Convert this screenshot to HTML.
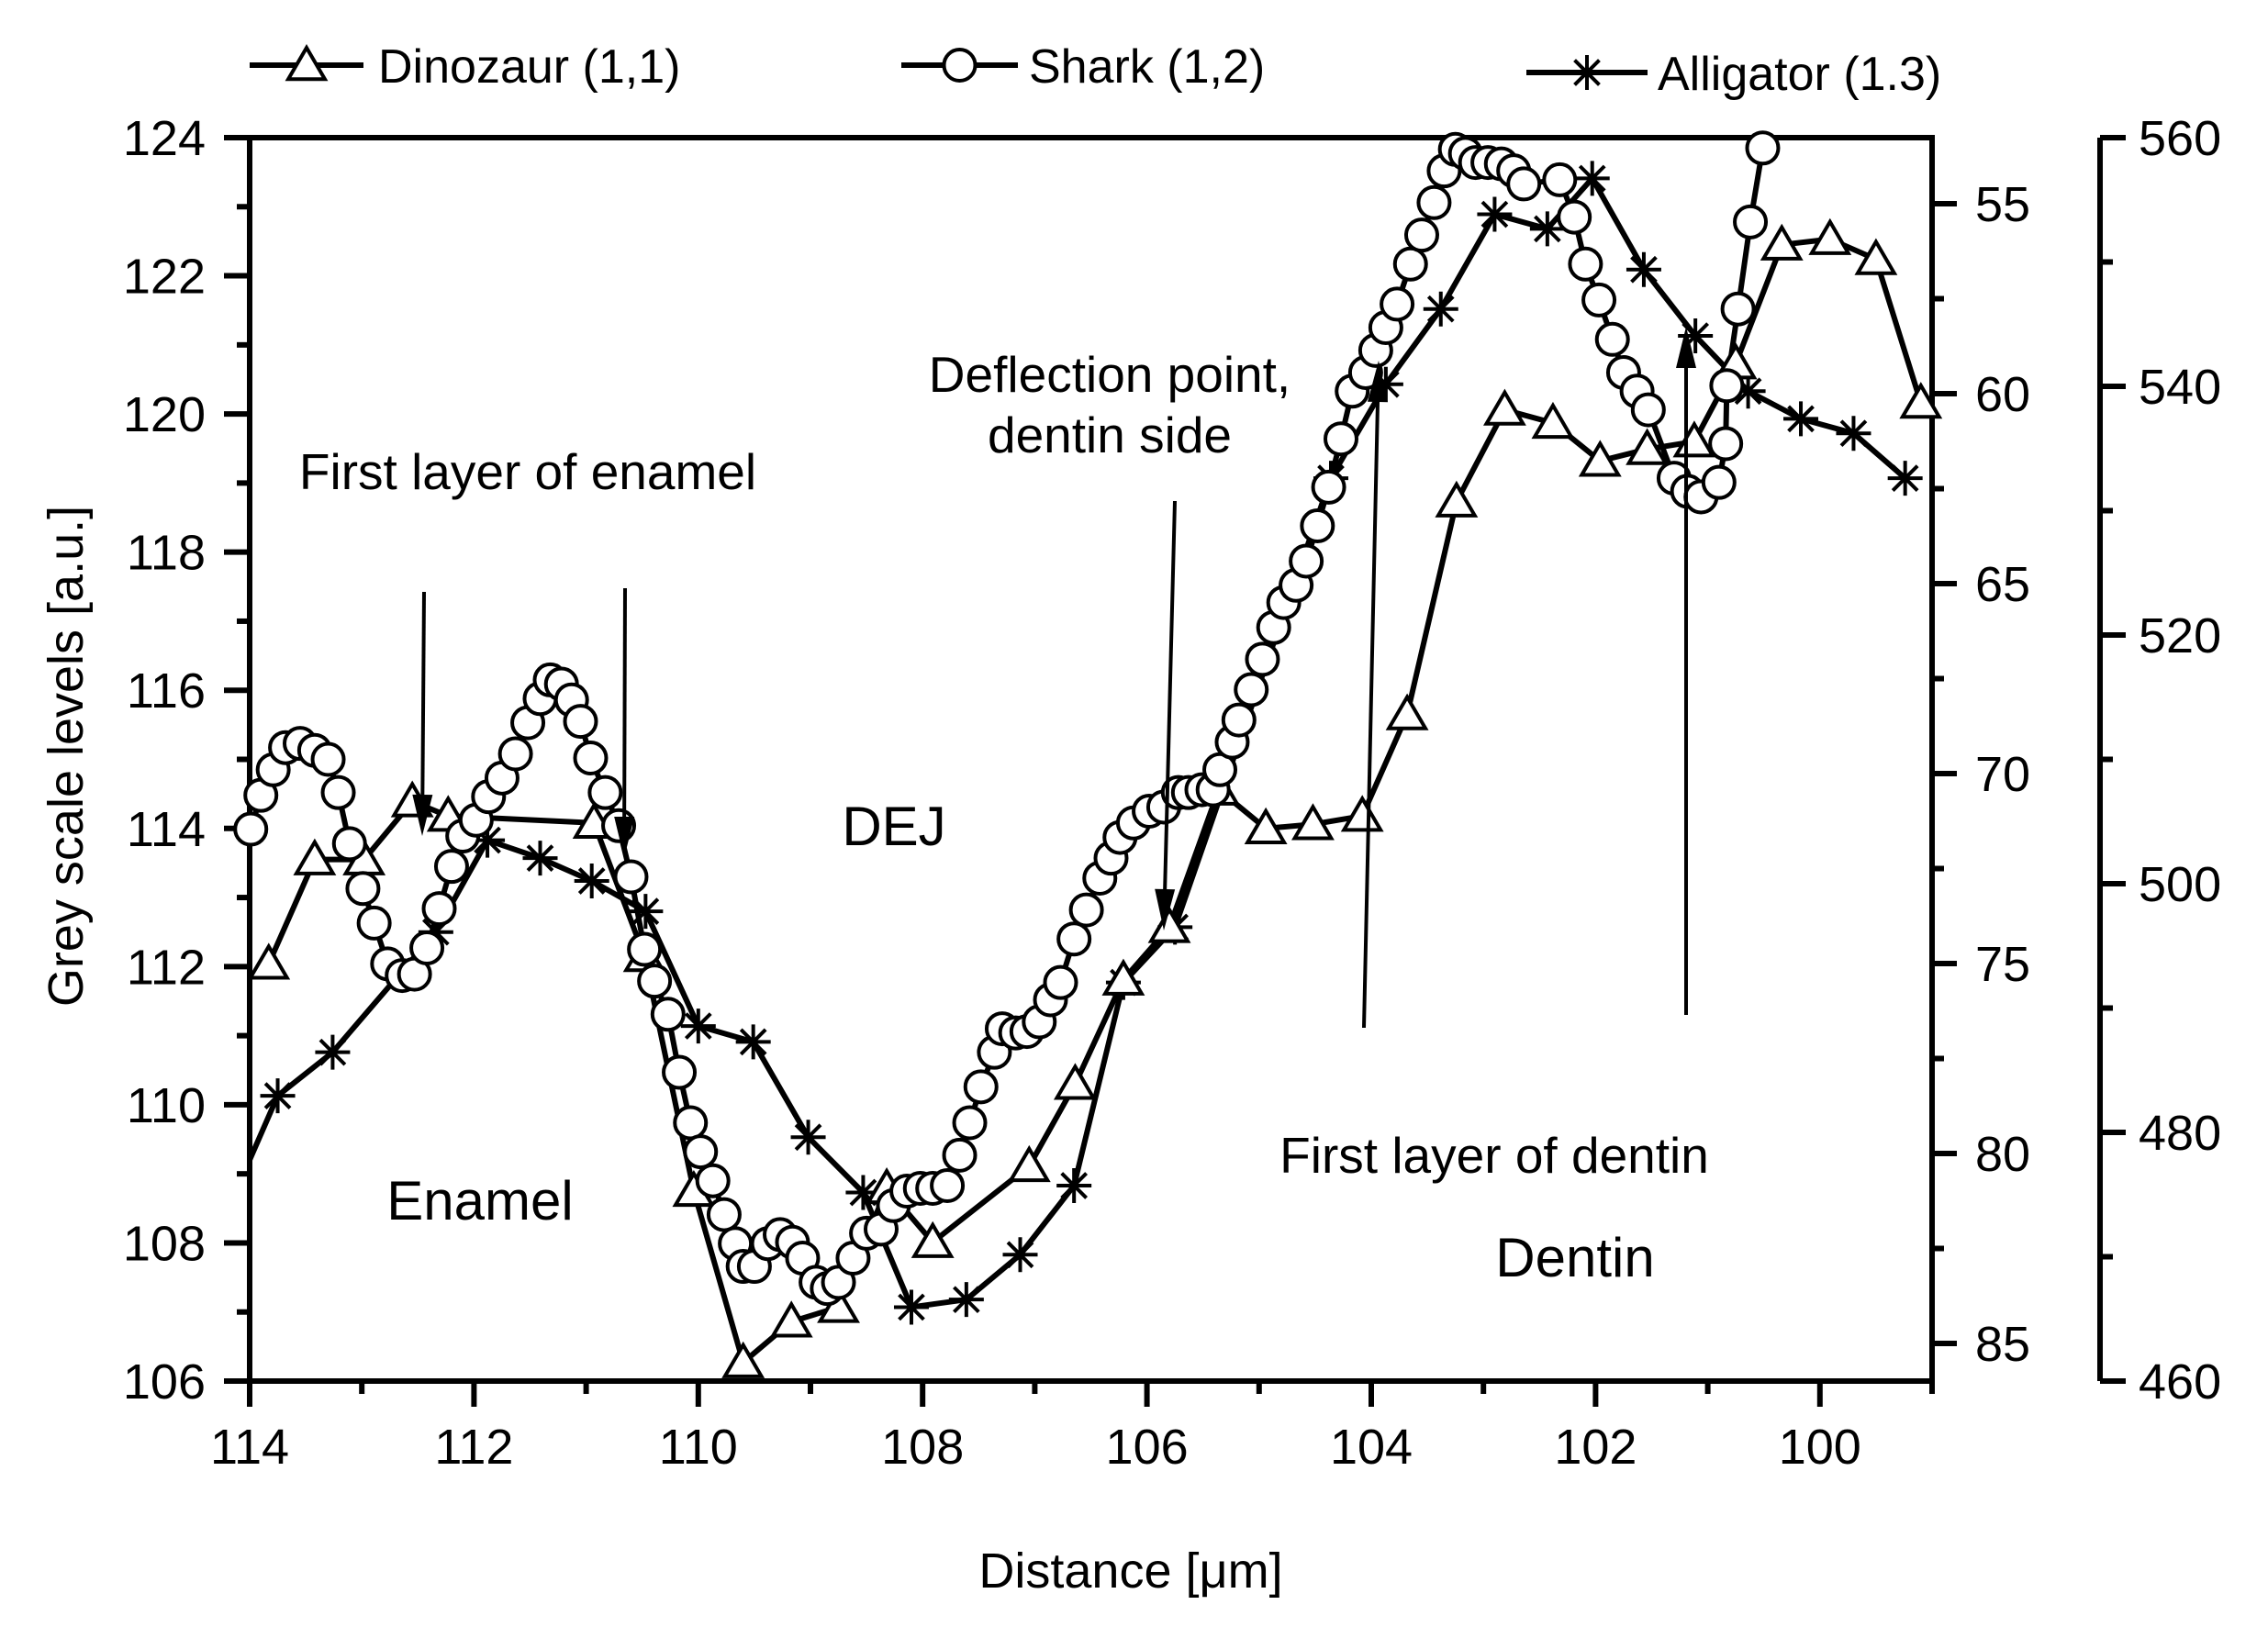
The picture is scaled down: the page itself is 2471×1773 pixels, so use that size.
<!DOCTYPE html>
<html><head><meta charset="utf-8"><style>
html,body{margin:0;padding:0;background:#fff;}
svg{display:block;}
text{font-family:"Liberation Sans",Arial,sans-serif;fill:#000;}
</style></head><body>
<svg id="chart" width="2471" height="1773" viewBox="0 0 2471 1773" xmlns="http://www.w3.org/2000/svg">
<defs><clipPath id="plotclip"><rect x="272" y="150" width="1833" height="1355"/></clipPath></defs>
<rect width="2471" height="1773" fill="#fff"/>
<g id="axes"></g>
<g id="series" clip-path="url(#plotclip)"></g>
<g id="marks"></g>
<g id="annot">
<text x="575" y="533" font-size="55" text-anchor="middle">First layer of enamel</text>
<text x="1209" y="427" font-size="55" text-anchor="middle">Deflection point,</text>
<text x="1209" y="493" font-size="55" text-anchor="middle">dentin side</text>
<text x="974" y="921" font-size="60" text-anchor="middle">DEJ</text>
<text x="523" y="1329" font-size="60" text-anchor="middle">Enamel</text>
<text x="1628" y="1278" font-size="55" text-anchor="middle">First layer of dentin</text>
<text x="1716" y="1391" font-size="60" text-anchor="middle">Dentin</text>
</g>
<g id="legend"></g>
<text font-size="54" text-anchor="middle" transform="translate(90,824) rotate(-90)">Grey scale levels [a.u.]</text>
<text x="1232" y="1730" font-size="54" text-anchor="middle">Distance [μm]</text>
</svg>
<script>
// ---- data ----
const dinoX=[113.83,113.42,112.98,112.55,112.23,110.93,110.48,110.04,109.60,109.17,108.75,108.32,107.91,107.05,106.64,106.21,105.80,105.36,104.94,104.52,104.08,103.68,103.24,102.81,102.38,101.96,101.54,101.12,100.75,100.34,99.91,99.50,99.10];
const dinoY=[112.04,113.55,113.55,114.39,114.18,114.08,112.15,108.75,106.27,106.86,107.07,108.79,108.01,109.11,110.30,111.81,112.57,114.56,114.0,114.06,114.18,115.65,118.73,120.06,119.87,119.32,119.49,119.6,120.73,122.45,122.53,122.24,120.16];
const gatorStartX=[114.0];
const gatorStartY=[109.2];
const gatorX=[113.75,113.26,112.34,111.88,111.41,110.95,110.47,110.00,109.51,109.02,108.53,108.10,107.61,107.13,106.65,106.21,105.75,104.36,103.87,103.38,102.90,102.43,102.03,101.57,101.11,100.64,100.17,99.70,99.24];
const gatorY=[110.13,110.76,112.50,113.83,113.57,113.24,112.80,111.14,110.91,109.53,108.73,107.07,107.18,107.83,108.83,111.77,112.57,119.07,120.43,121.52,122.89,122.68,123.41,122.09,121.13,120.33,119.93,119.72,119.07];
const sharkX=[113.99,113.90,113.79,113.68,113.55,113.42,113.30,113.21,113.11,112.99,112.89,112.77,112.64,112.53,112.42,112.31,112.20,112.10,111.98,111.87,111.75,111.63,111.52,111.41,111.32,111.22,111.13,111.05,110.96,110.83,110.71,110.60,110.48,110.39,110.27,110.17,110.07,109.98,109.87,109.77,109.67,109.60,109.50,109.38,109.27,109.16,109.07,108.95,108.85,108.75,108.62,108.50,108.37,108.26,108.14,108.02,107.91,107.78,107.67,107.58,107.48,107.36,107.29,107.17,107.07,106.96,106.86,106.77,106.65,106.54,106.42,106.32,106.24,106.12,105.98,105.85,105.72,105.63,105.51,105.41,105.35,105.24,105.18,105.07,104.97,104.87,104.78,104.67,104.58,104.48,104.38,104.27,104.17,104.05,103.96,103.87,103.77,103.65,103.55,103.44,103.35,103.25,103.16,103.07,102.96,102.84,102.73,102.64,102.32,102.19,102.09,101.97,101.85,101.75,101.63,101.53,101.30,101.18,101.06,100.90,100.84,100.83,100.73,100.62,100.51,100.40];
const sharkY=[113.99,114.48,114.85,115.17,115.23,115.13,115.00,114.52,113.78,113.13,112.63,112.04,111.87,111.89,112.27,112.84,113.45,113.89,114.12,114.46,114.73,115.08,115.53,115.88,116.15,116.09,115.86,115.55,115.02,114.52,114.04,113.30,112.25,111.79,111.31,110.47,109.74,109.32,108.90,108.41,107.99,107.66,107.66,107.99,108.12,108.01,107.78,107.43,107.34,107.43,107.78,108.14,108.20,108.54,108.75,108.79,108.79,108.83,109.27,109.74,110.26,110.76,111.10,111.04,111.06,111.20,111.52,111.77,112.40,112.82,113.28,113.57,113.87,114.08,114.25,114.31,114.52,114.52,114.56,114.56,114.85,115.25,115.57,116.01,116.45,116.91,117.27,117.52,117.87,118.38,118.94,119.64,120.33,120.60,120.92,121.25,121.59,122.17,122.59,123.06,123.52,123.83,123.77,123.64,123.64,123.62,123.52,123.33,123.39,122.85,122.17,121.65,121.08,120.60,120.33,120.06,119.07,118.88,118.80,119.01,119.57,120.41,121.52,122.78,123.85,125.2];
const xTicks=[114,112,110,108,106,104,102,100];
const yTicks=[106,108,110,112,114,116,118,120,122,124];
const midTicks=[55,60,65,70,75,80,85];
const farTicks=[460,480,500,520,540,560];

// ---- scales ----
const X=v=>272+(114-v)*(1833/15);
const Y=v=>1505-(v-106)*(1355/18);
const M=v=>222+(v-55)*41.4;
const R=v=>1505-(v-460)*(1355/100);
const NS='http://www.w3.org/2000/svg';
function mk(tag,attrs,parent){const e=document.createElementNS(NS,tag);for(const k in attrs)e.setAttribute(k,attrs[k]);parent.appendChild(e);return e;}
const axes=document.getElementById('axes');
const series=document.getElementById('series');
const marks=document.getElementById('marks');
const legend=document.getElementById('legend');
const SW=6;

let f=mk('path',{d:'M272,150H2105V1505H272Z',fill:'none',stroke:'#000','stroke-width':SW},axes);


for(let v=106;v<=124;v++){
  const maj=v%2===0;
  let t=mk('line',{x1:maj?244:258,x2:272,y1:Y(v),y2:Y(v),stroke:'#000','stroke-width':SW},axes);
  
  
}
yTicks.forEach(v=>{
  let t=mk('text',{x:224,y:Y(v)+19,'font-size':54,'text-anchor':'end'},axes);t.textContent=v;
  
  
});
for(let v=99;v<=114;v++){
  const maj=v%2===0;
  let t=mk('line',{x1:X(v),x2:X(v),y1:1505,y2:maj?1533:1519,stroke:'#000','stroke-width':SW},axes);
  
  
}
xTicks.forEach(v=>{
  let t=mk('text',{x:X(v),y:1595,'font-size':54,'text-anchor':'middle'},axes);t.textContent=v;
  
  
});
for(let v=55;v<=85;v+=2.5){
  const maj=v%5===0;
  let t=mk('line',{x1:2105,x2:maj?2132:2118,y1:M(v),y2:M(v),stroke:'#000','stroke-width':SW},axes);
  
  
}
midTicks.forEach(v=>{
  let t=mk('text',{x:2152,y:M(v)+19,'font-size':54},axes);t.textContent=v;
  
  
});
let fa=mk('line',{x1:2288,x2:2288,y1:150,y2:1505,stroke:'#000','stroke-width':SW},axes);


for(let v=460;v<=560;v+=10){
  const maj=v%20===0;
  let t=mk('line',{x1:2288,x2:maj?2316:2302,y1:R(v),y2:R(v),stroke:'#000','stroke-width':SW},axes);
  
  
}
farTicks.forEach(v=>{
  let t=mk('text',{x:2330,y:R(v)+19,'font-size':54},axes);t.textContent=v;
  
  
});

function triangle(cx,cy,p,name){
  const s=19;
  let e=mk('path',{d:`M${cx},${cy-s}L${cx+s*1.05},${cy+s*0.8}L${cx-s*1.05},${cy+s*0.8}Z`,fill:'#fff',stroke:'#000','stroke-width':4},p);
  
  
}
function circle(cx,cy,p,name){
  let e=mk('circle',{cx:cx,cy:cy,r:17,fill:'#fff',stroke:'#000','stroke-width':4},p);
  
  
}
function star(cx,cy,p,name){
  const r=19;let d='';
  for(let k=0;k<4;k++){const a=k*Math.PI/4;d+=`M${cx-r*Math.cos(a)},${cy-r*Math.sin(a)}L${cx+r*Math.cos(a)},${cy+r*Math.sin(a)}`;}
  let e=mk('path',{d:d,stroke:'#000','stroke-width':4,fill:'none'},p);
  
  
}
function drawSeries(xs,ys,name,marker,lx,ly){
  const allX=(lx||[]).concat(xs), allY=(ly||[]).concat(ys);
  const pts=allX.map((x,i)=>X(x)+','+Y(allY[i])).join(' ');
  let l=mk('polyline',{points:pts,fill:'none',stroke:'#000','stroke-width':SW,'stroke-linejoin':'round'},series);
  
  
  xs.forEach((x,i)=>{const y=ys[i];if(y<=124.2&&x>=99)marker(X(x),Y(y),marks,name+'-point');});
}
drawSeries(gatorX,gatorY,'alligator',star,gatorStartX,gatorStartY);
drawSeries(dinoX,dinoY,'dinozaur',triangle);
drawSeries(sharkX,sharkY,'shark',circle);

function arrow(x1,y1,x2,y2,name){
  const g=mk('g',{},document.getElementById('annot'));
  
  
  const dx=x2-x1,dy=y2-y1,L=Math.hypot(dx,dy),ux=dx/L,uy=dy/L;
  const hl=45,hw=11;
  const bx=x2-ux*hl,by=y2-uy*hl;
  mk('line',{x1:x1,y1:y1,x2:bx,y2:by,stroke:'#000','stroke-width':4},g);
  mk('path',{d:`M${x2},${y2}L${bx-uy*hw},${by+ux*hw}L${bx+uy*hw},${by-ux*hw}Z`,fill:'#000'},g);
}
arrow(462,645,460,911,'arrow-enamel-1');
arrow(681,641,680,935,'arrow-enamel-2');
arrow(1280,546,1268,1014,'arrow-deflection');
arrow(1486,1120,1502,393,'arrow-dentin-1');
arrow(1837,1106,1837,356,'arrow-dentin-2');

function legendItem(x1,x2,cy,tx,label,marker,name){
  const g=mk('g',{},legend);
  
  
  mk('line',{x1:x1,x2:x2,y1:cy,y2:cy,stroke:'#000','stroke-width':SW},g);
  marker((x1+x2)/2,cy,g,name+'-symbol');
  const t=mk('text',{x:tx,y:cy+19,'font-size':52},g);t.textContent=label;
}
legendItem(272,396,71,412,'Dinozaur (1,1)',triangle,'legend-dinozaur');
legendItem(982,1109,71,1121,'Shark (1,2)',circle,'legend-shark');
legendItem(1663,1795,79,1806,'Alligator (1.3)',star,'legend-alligator');
</script>
</body></html>
